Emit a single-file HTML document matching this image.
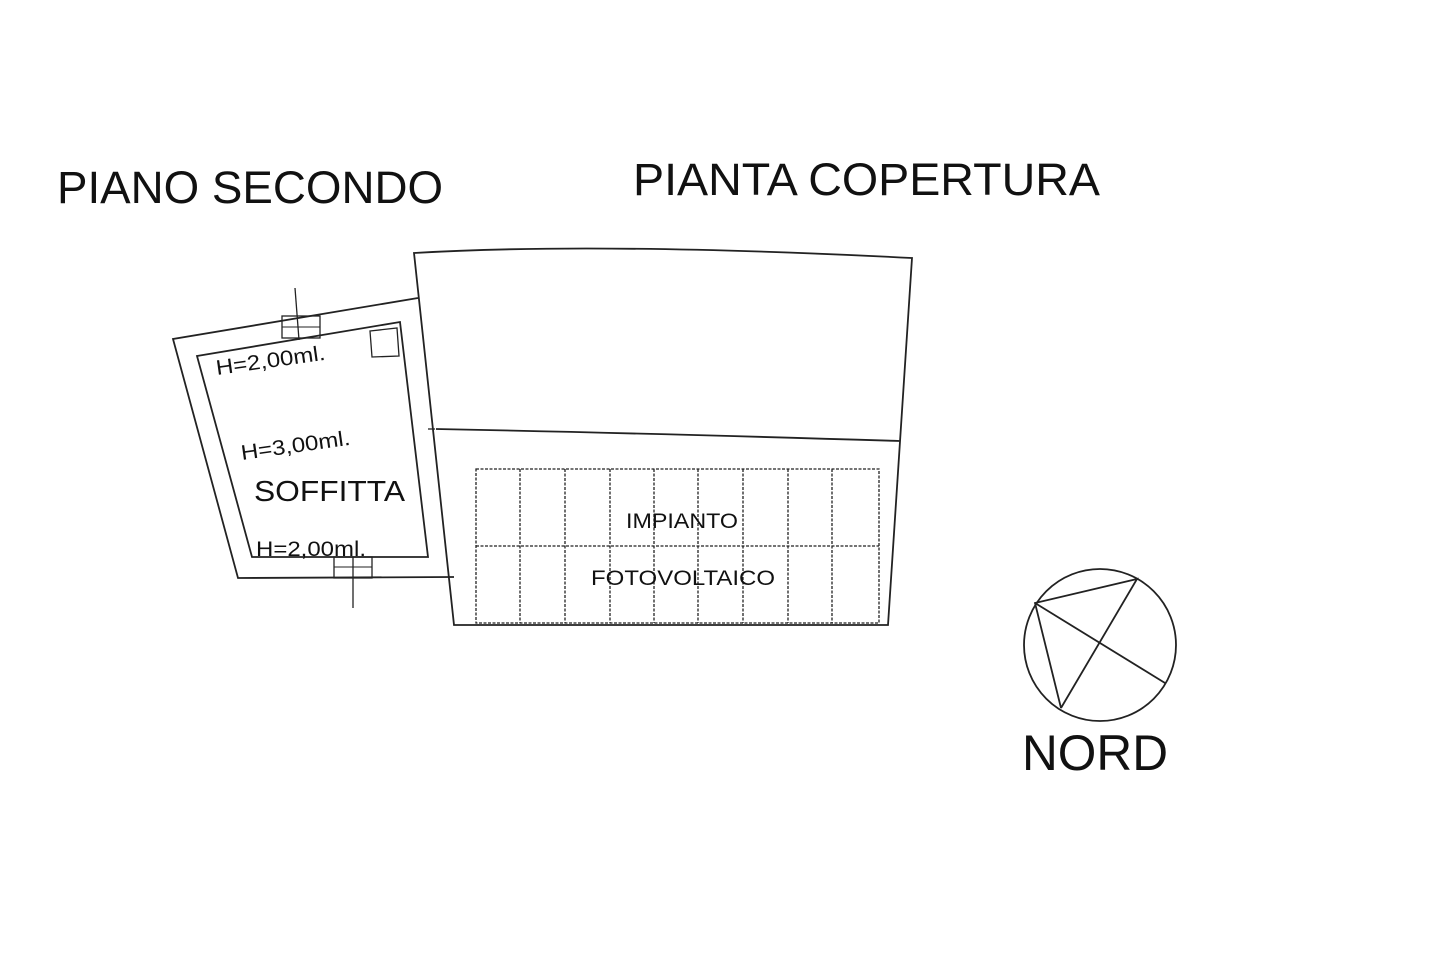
<!DOCTYPE html>
<html><head><meta charset="utf-8"><style>
html,body{margin:0;padding:0;background:#fff;}
svg{display:block;}
text{font-family:"Liberation Sans",Arial,sans-serif;fill:#111;}
</style></head><body>
<svg width="1456" height="958" viewBox="0 0 1456 958" xmlns="http://www.w3.org/2000/svg">
<g fill="none" stroke="#222" stroke-width="1.8">
<polyline points="418,298 173,339 238,578 454,577"/>
<polygon points="197,356 400,322 428,557 252,557"/>
<rect x="282" y="316" width="38" height="22" stroke-width="1.3"/>
<line x1="282" y1="327" x2="320" y2="327" stroke-width="1.1"/>
<line x1="295" y1="288" x2="299" y2="340" stroke-width="1.3"/>
<rect x="334" y="557" width="38" height="21" stroke-width="1.3"/>
<line x1="334" y1="567" x2="372" y2="567" stroke-width="1.1"/>
<line x1="353" y1="557" x2="353" y2="608" stroke-width="1.3"/>
<polygon points="370,331 397,328 399,356 372,357" stroke-width="1.3"/>
<line x1="428" y1="429" x2="435" y2="429" stroke-width="1.3"/>
<path d="M414,253 Q600,242 912,258 L888,625 L454,625 Z"/>
<path d="M436,429 Q640,433 900,441"/>
<g stroke-dasharray="3,1.5" stroke-width="1.3">
<rect x="476" y="469" width="403" height="154"/>
<line x1="476" y1="546" x2="879" y2="546"/>
<line x1="520" y1="469" x2="520" y2="623"/>
<line x1="565" y1="469" x2="565" y2="623"/>
<line x1="610" y1="469" x2="610" y2="623"/>
<line x1="654" y1="469" x2="654" y2="623"/>
<line x1="698" y1="469" x2="698" y2="623"/>
<line x1="743" y1="469" x2="743" y2="623"/>
<line x1="788" y1="469" x2="788" y2="623"/>
<line x1="832" y1="469" x2="832" y2="623"/>
</g>
<circle cx="1100" cy="645" r="76"/>
<polyline points="1061,708 1035,603 1137,579 1061,708"/>
<line x1="1035" y1="603" x2="1165" y2="683"/>
</g>
<text x="57" y="203" font-size="45" textLength="386" lengthAdjust="spacingAndGlyphs">PIANO SECONDO</text>
<text x="633" y="195" font-size="45" textLength="467" lengthAdjust="spacingAndGlyphs">PIANTA COPERTURA</text>
<text x="1022" y="770" font-size="50" textLength="146" lengthAdjust="spacingAndGlyphs">NORD</text>
<text x="254" y="501" font-size="29" textLength="151" lengthAdjust="spacingAndGlyphs">SOFFITTA</text>
<text x="217" y="375" font-size="21" transform="rotate(-8 217 375)" textLength="110" lengthAdjust="spacingAndGlyphs">H=2,00ml.</text>
<text x="242" y="460" font-size="21" transform="rotate(-8 242 460)" textLength="110" lengthAdjust="spacingAndGlyphs">H=3,00ml.</text>
<text x="256" y="556" font-size="21" textLength="110" lengthAdjust="spacingAndGlyphs">H=2,00ml.</text>
<text x="626" y="528" font-size="21" textLength="112" lengthAdjust="spacingAndGlyphs">IMPIANTO</text>
<text x="591" y="585" font-size="21" textLength="184" lengthAdjust="spacingAndGlyphs">FOTOVOLTAICO</text>
</svg>
</body></html>
